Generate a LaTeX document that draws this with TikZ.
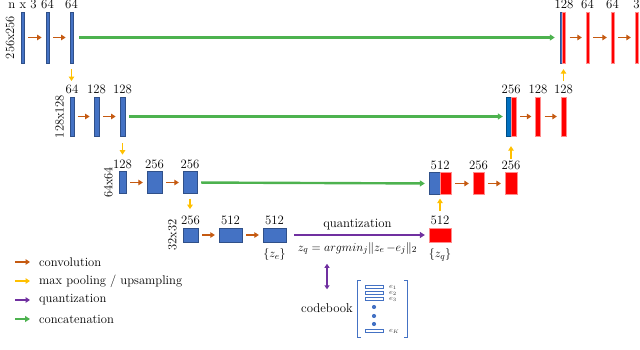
\documentclass[tikz,border=0pt]{standalone}
\usepackage{amsmath,amssymb}
\usepackage{xcolor}
\usepackage{tikz}
\usetikzlibrary{arrows.meta,positioning,calc}
\definecolor{encblue}{HTML}{4472C4}
\definecolor{catblue}{HTML}{0070C0}
\definecolor{decred}{HTML}{FF0000}
\definecolor{convorange}{HTML}{C55A11}
\definecolor{poolyellow}{HTML}{FFC000}
\definecolor{quantpurple}{HTML}{7030A0}
\definecolor{catgreen}{HTML}{4DB24F}
\tikzset{
  unetenc/.style={draw=encblue!70!black, line width=0.3pt, fill=encblue, inner sep=0pt, minimum width=#1},
  unetcat/.style={draw=catblue!70!black, line width=0.3pt, fill=catblue, inner sep=0pt, minimum width=#1},
  unetdec/.style={draw=decred!45, line width=0.3pt, fill=decred, inner sep=0pt, minimum width=#1},
  rowone/.style={minimum height=51pt},
  rowtwo/.style={minimum height=39pt},
  rowthree/.style={minimum height=22pt},
  rowfour/.style={minimum height=14pt},
  unetlbl/.style={font=\fontsize{12.8}{15}\selectfont, inner sep=1pt},
  unetsize/.style={font=\fontsize{12.5}{15}\selectfont, inner sep=1pt, rotate=90, anchor=south},
  unetleg/.style={font=\fontsize{12.6}{15}\selectfont, inner sep=1pt, anchor=west},
  convarrow/.style={-{Triangle[length=4.5pt,width=5.5pt]}, line width=1.8pt, draw=convorange, shorten <=4pt, shorten >=4pt},
  poolarrow/.style={-{Triangle[length=4.5pt,width=5.5pt]}, line width=1.8pt, draw=poolyellow},
  catarrow/.style={-{Triangle[length=5pt,width=6pt]}, line width=2.4pt, draw=catgreen, shorten <=4pt, shorten >=4pt},
  quantarrow/.style={line width=2.2pt, draw=quantpurple},
  cbentry/.style={draw=encblue, line width=0.7pt, fill=white, inner sep=0pt, minimum width=18pt, minimum height=3pt},
  cbdot/.style={circle, fill=encblue, inner sep=0pt, minimum size=4.2pt},
  cblbl/.style={font=\fontsize{7}{8}\selectfont, inner sep=0.5pt, text=black!80},
  cbline/.style={draw=encblue, line width=0.8pt}
}
\begin{document}
\begin{tikzpicture}[x=1pt, y=-1pt]
\useasboundingbox (0,0) rectangle (640,350);

\node[unetenc=3.5pt, rowone] (e11) at (22.5,37.5) {};
\node[unetenc=3.5pt, rowone] (e12) at (47.5,37.5) {};
\node[unetenc=3.5pt, rowone] (e13) at (71.5,37.5) {};
\node[unetenc=2.5pt, rowone] (d11b) at (561.2,37.5) {};
\node[unetdec=3pt, rowone] (d11r) at (564,37.5) {};
\node[unetdec=3pt, rowone] (d12) at (587.5,37.5) {};
\node[unetdec=3pt, rowone] (d13) at (612.5,37.5) {};
\node[unetdec=3pt, rowone] (d14) at (636.5,37.5) {};

\node[unetlbl, above=1.5pt of e11] (l11) {n x 3};
\node[unetlbl, above=1.5pt of e12] (l12) {64};
\node[unetlbl, above=1.5pt of e13] (l13) {64};
\node[unetlbl, above=1.5pt of d11r] (l14) {128};
\node[unetlbl, above=1.5pt of d12] (l15) {64};
\node[unetlbl, above=1.5pt of d13] (l16) {64};
\node[unetlbl, above=1.5pt of d14] (l17) {3};
\node[unetsize] (s1) at ([xshift=-5pt]e11.west) {256x256};

\node[unetenc=3.5pt, rowtwo] (e21) at (72,116.5) {};
\node[unetenc=5.5pt, rowtwo] (e22) at (96.5,116.5) {};
\node[unetenc=5.5pt, rowtwo] (e23) at (122.5,116.5) {};
\node[unetcat=5pt, rowtwo] (d21b) at (508.5,116.5) {};
\node[unetdec=5pt, rowtwo] (d21r) at (513.5,116.5) {};
\node[unetdec=5pt, rowtwo] (d22) at (538,116.5) {};
\node[unetdec=5pt, rowtwo] (d23) at (563.5,116.5) {};

\node[unetlbl, above=1.5pt of e21] (l21) {64};
\node[unetlbl, above=1.5pt of e22] (l22) {128};
\node[unetlbl, above=1.5pt of e23] (l23) {128};
\node[unetlbl, above=1.5pt of d21b.north east] (l24) {256};
\node[unetlbl, above=1.5pt of d22] (l25) {128};
\node[unetlbl, above=1.5pt of d23] (l26) {128};
\node[unetsize] (s2) at ([xshift=-5pt]e21.west) {128x128};

\node[unetenc=7pt, rowthree] (e31) at (122.5,182.5) {};
\node[unetenc=15pt, rowthree] (e32) at (154.5,182.5) {};
\node[unetenc=14pt, rowthree] (e33) at (190,182.5) {};
\node[unetenc=11pt, rowthree] (d31b) at (434.5,183.5) {};
\node[unetdec=11pt, rowthree] (d31r) at (445.5,183.5) {};
\node[unetdec=11pt, rowthree] (d32) at (478.5,183.5) {};
\node[unetdec=12pt, rowthree] (d33) at (511,183.5) {};

\node[unetlbl, above=1.5pt of e31] (l31) {128};
\node[unetlbl, above=1.5pt of e32] (l32) {256};
\node[unetlbl, above=1.5pt of e33] (l33) {256};
\node[unetlbl, above=1.5pt of d31b.north east] (l34) {512};
\node[unetlbl, above=1.5pt of d32] (l35) {256};
\node[unetlbl, above=1.5pt of d33] (l36) {256};
\node[unetsize] (s3) at ([xshift=-5pt]e31.west) {64x64};

\node[unetenc=15pt, rowfour] (e41) at (190.5,235) {};
\node[unetenc=23pt, rowfour] (e42) at (230.5,235) {};
\node[unetenc=23pt, rowfour] (e43) at (274.5,235) {};
\node[unetdec=22pt, rowfour] (q41) at (440,235) {};

\node[unetlbl, above=1.5pt of e41] (l41) {256};
\node[unetlbl, above=1.5pt of e42] (l42) {512};
\node[unetlbl, above=1.5pt of e43] (l43) {512};
\node[unetlbl, above=1.5pt of q41] (l44) {512};
\node[unetsize] (s4) at ([xshift=-5pt]e41.west) {32x32};
\node[unetlbl, below=5pt of e43] (ze) {$\{z_e\}$};
\node[unetlbl, below=5pt of q41] (zq) {$\{z_q\}$};

\draw[convarrow] (e11) -- (e12);
\draw[convarrow] (e12) -- (e13);
\draw[convarrow] (d11r) -- (d12);
\draw[convarrow] (d12) -- (d13);
\draw[convarrow] (d13) -- (d14);
\draw[convarrow] (e21) -- (e22);
\draw[convarrow] (e22) -- (e23);
\draw[convarrow] (d21r) -- (d22);
\draw[convarrow] (d22) -- (d23);
\draw[convarrow] (e31) -- (e32);
\draw[convarrow] (e32) -- (e33);
\draw[convarrow] (d31r) -- (d32);
\draw[convarrow] (d32) -- (d33);
\draw[convarrow] (e41) -- (e42);
\draw[convarrow] (e42) -- (e43);

\draw[catarrow, shorten <=6pt, shorten >=5pt] (e13) -- (d11b);
\draw[catarrow, shorten >=3pt] (e23) -- (d21b);
\draw[catarrow] (e33) -- (d31b);

\draw[poolarrow, shorten <=6pt, shorten >=3pt] (e13.south) -- (e13.south |- l21.north);
\draw[poolarrow, shorten <=7pt, shorten >=4pt] (e23.south) -- (e23.south |- l31.north);
\draw[poolarrow, shorten <=5pt, shorten >=6pt] (e33.south) -- (e33.south |- l41.north);
\draw[poolarrow, shorten <=4pt, shorten >=4pt] (l44.north) -- (l44.north |- d31b.south);
\draw[poolarrow, shorten <=1pt, shorten >=10pt] (l36.north) -- (l36.north |- d21b.south);
\draw[poolarrow, shorten <=3pt, shorten >=6pt] (l26.north) -- (l26.north |- d11b.south);

\draw[quantarrow, -{Triangle[length=5pt,width=6pt]}, shorten <=8pt, shorten >=4pt] (e43) -- node[unetlbl, above=3pt] (qlbl) {quantization} node[unetlbl, below=5pt] (qfml) {$z_q = argmin_j\|z_e\,{-}e_j\|_2$} (q41);

\node[unetlbl] (cbtxt) at (327,308) {codebook};
\draw[quantarrow, {Triangle[length=4pt,width=5pt]}-{Triangle[length=4pt,width=5pt]}, shorten <=7pt, shorten >=13pt] (cbtxt.north |- qfml.south) -- (cbtxt.north);

\node[inner sep=0pt, minimum width=49pt, minimum height=56pt] (cb) at (382.5,309) {};
\draw[cbline] ([xshift=3pt]cb.north west) -- (cb.north west) -- (cb.south west) -- ([xshift=3pt]cb.south west);
\draw[cbline] ([xshift=-3pt]cb.north east) -- (cb.north east) -- (cb.south east) -- ([xshift=-3pt]cb.south east);
\node[cbentry] (c1) at (374,287) {};
\node[cbentry] (c2) at (374,293) {};
\node[cbentry] (c3) at (374,299) {};
\node[cbdot] (c4) at (374,307) {};
\node[cbdot] (c5) at (374,316) {};
\node[cbdot] (c6) at (374,324) {};
\node[cbentry] (c7) at (374,331) {};
\node[cblbl, right=5pt of c1] (c1l) {$e_1$};
\node[cblbl, right=5pt of c2] (c2l) {$e_2$};
\node[cblbl, right=5pt of c3] (c3l) {$e_3$};
\node[cblbl, right=5pt of c7] (c7l) {$e_K$};

\coordinate (lg1) at (15,262);
\coordinate (lg2) at (15,281);
\coordinate (lg3) at (15,300);
\coordinate (lg4) at (15,319);
\node[unetleg] (lt1) at (38,262) {convolution};
\node[unetleg] (lt2) at (38,281) {max pooling / upsampling};
\node[unetleg] (lt3) at (38,300) {quantization};
\node[unetleg] (lt4) at (38,319) {concatenation};
\draw[convarrow, shorten <=0pt, shorten >=8pt] (lg1) -- (lt1.west |- lg1);
\draw[poolarrow, shorten >=8pt] (lg2) -- (lt2.west |- lg2);
\draw[quantarrow, -{Triangle[length=4.5pt,width=5.5pt]}, line width=1.8pt, shorten >=8pt] (lg3) -- (lt3.west |- lg3);
\draw[catarrow, line width=1.8pt, shorten <=0pt, shorten >=8pt] (lg4) -- (lt4.west |- lg4);
\end{tikzpicture}
\end{document}
